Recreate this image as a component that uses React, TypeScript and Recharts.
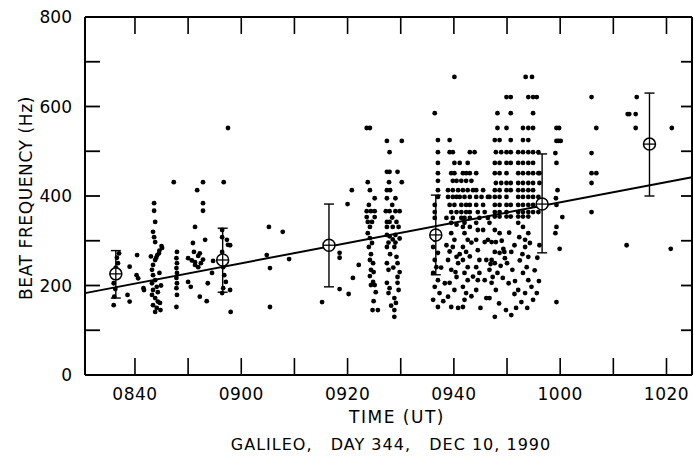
import {
  ErrorBar,
  ReferenceLine,
  Scatter,
  ScatterChart,
  XAxis,
  YAxis,
} from "recharts";

// time is minutes after 08:00 UT, frequency in Hz
const T_MIN = 30.6;
const T_MAX = 144.8;

const timeTicks = [40, 50, 60, 70, 80, 90, 100, 110, 120, 130, 140];
const freqTicks = [0, 100, 200, 300, 400, 500, 600, 700, 800];

const scan0836: [number, number][] = [
  [36.0, 156], [36.1, 175], [36.3, 192], [36.0, 205], [36.2, 218], [36.4, 240], [36.6, 262],
  [37.0, 272], [36.8, 250], [38.6, 179], [39.0, 164], [39.0, 242], [40.4, 268], [40.3, 223],
  [40.6, 216], [41.6, 194],
];

const scan0843: [number, number][] = [
  [43.6, 384], [43.6, 367], [43.8, 342], [43.4, 320], [43.6, 308], [43.8, 297], [45.1, 284],
  [44.5, 272], [43.8, 257], [43.4, 246], [43.2, 235], [43.4, 223], [43.8, 212], [43.2, 205],
  [44.1, 197], [43.4, 190], [43.2, 179], [43.8, 172], [44.3, 164], [43.4, 156], [44.1, 150],
  [44.7, 161], [43.8, 141], [41.7, 190], [44.0, 262], [44.6, 228], [44.9, 200], [44.3, 185],
  [44.8, 145], [43.0, 265], [45.0, 288], [44.6, 278], [44.2, 268],
];

const scan0848: [number, number][] = [
  [47.9, 275], [47.8, 261], [47.9, 250], [47.8, 239], [47.9, 228], [47.8, 217], [47.9, 205],
  [47.8, 194], [47.9, 179], [47.8, 152], [47.3, 431],
];

const scan0851: [number, number][] = [
  [51.7, 413], [52.8, 431], [52.8, 384], [52.8, 367], [51.3, 331], [50.9, 295], [53.2, 302],
  [50.0, 261], [50.7, 256], [51.3, 252], [51.9, 266], [52.4, 250], [52.8, 258], [51.1, 275],
  [52.2, 272], [51.3, 246], [51.9, 241], [50.0, 208], [50.5, 197], [52.2, 175], [53.5, 165],
  [54.7, 255], [54.5, 228], [53.7, 205], [56.7, 431],
];

const scan0857: [number, number][] = [
  [56.4, 324], [56.4, 308], [57.3, 302], [57.5, 291], [56.4, 275], [56.2, 261], [56.6, 241],
  [56.8, 223], [57.1, 208], [56.6, 194], [57.9, 190], [56.4, 183], [58.0, 141], [57.5, 552],
  [57.9, 290],
];

const scan0905: [number, number][] = [
  [65.2, 331], [67.8, 320], [64.8, 268], [65.4, 239], [69.0, 259], [65.4, 152], [75.2, 163],
  [78.5, 273], [78.5, 262], [78.5, 192], [80.2, 181], [80.0, 382], [80.8, 413], [81.0, 217],
  [82.1, 246],
];

const scan0924: [number, number][] = [
  [83.6, 552], [84.2, 552], [83.8, 431], [84.2, 413], [85.1, 395], [83.6, 366], [84.4, 366],
  [85.1, 366], [83.6, 353], [85.1, 353], [83.8, 342], [84.6, 342], [84.2, 331], [83.8, 317],
  [84.2, 306], [84.6, 295], [84.0, 286], [84.2, 257], [84.8, 250], [84.4, 235], [84.9, 230],
  [84.2, 221], [84.8, 208], [84.4, 201], [85.1, 201], [84.7, 145], [85.7, 145], [84.0, 380],
  [84.4, 270], [85.3, 185], [84.9, 165],
];

const scan0928: [number, number][] = [
  [87.4, 523], [90.2, 523], [87.9, 498], [87.4, 454], [87.9, 454], [89.4, 454], [87.8, 431],
  [90.2, 431], [87.4, 413], [88.0, 413], [87.4, 395], [89.0, 395], [87.2, 366], [87.9, 366],
  [89.0, 366], [89.8, 366], [87.4, 342], [87.9, 342], [89.2, 342], [87.4, 331], [88.5, 331],
  [89.6, 331], [87.4, 313], [87.9, 310], [89.0, 313], [88.5, 303], [87.7, 296], [89.0, 296],
  [89.8, 305], [87.4, 286], [88.8, 286], [87.4, 250], [87.7, 235], [89.2, 264], [89.4, 250],
  [89.8, 230], [89.4, 219], [87.4, 206], [87.9, 194], [87.7, 183], [89.4, 206], [88.8, 172],
  [89.1, 161], [88.8, 145], [88.8, 130], [88.4, 380], [88.4, 352], [88.0, 270], [88.6, 240],
  [88.2, 155], [89.6, 190],
];

const scan0937: [number, number][] = [
  [100.1, 666], [96.4, 585], [97.0, 525], [99.2, 525], [97.0, 498], [99.2, 498], [99.8, 498],
  [103.0, 498], [103.9, 498], [97.0, 474], [100.1, 474], [101.1, 474], [102.6, 474],
  [97.0, 451], [99.5, 451], [100.1, 451], [101.7, 451], [102.3, 451], [103.0, 451], [104.2, 451],
  [97.0, 434], [99.8, 434], [100.5, 434], [101.4, 434], [102.3, 434], [103.3, 434],
  [97.0, 413], [98.9, 413], [99.8, 413], [100.8, 413], [101.7, 413], [102.6, 413], [103.6, 413],
  [104.2, 413], [105.5, 413],
  [97.0, 398], [98.9, 398], [99.8, 398], [100.5, 398], [101.1, 398], [102.0, 398], [103.0, 398],
  [104.2, 398], [105.2, 398], [106.4, 398],
  [96.4, 380], [99.2, 380], [100.1, 380], [101.4, 380], [102.3, 380], [103.0, 380], [104.2, 380],
  [105.5, 380],
  [96.4, 364], [99.5, 364], [100.5, 364], [101.4, 364], [102.3, 364], [103.0, 364], [104.5, 364],
  [105.8, 364],
  [96.4, 351], [98.6, 351], [99.8, 351], [101.4, 351], [102.0, 351], [103.0, 351], [104.8, 351],
  [106.4, 351], [99.5, 340], [100.5, 336], [102.0, 340], [103.0, 331],
  [96.4, 317], [96.4, 302], [96.1, 286], [97.0, 273], [96.4, 257], [96.7, 241], [96.1, 228],
  [97.0, 212], [96.4, 197], [97.3, 183], [96.1, 168], [97.0, 152],
  [99.5, 317], [100.1, 302], [99.8, 286], [99.2, 276], [100.5, 264], [98.9, 257], [100.8, 250],
  [99.5, 235], [100.5, 219], [99.2, 206], [100.1, 190], [98.9, 175], [99.5, 152], [100.8, 150],
  [101.7, 331], [102.0, 317], [102.6, 302], [101.7, 286], [102.3, 275], [101.7, 257], [102.6, 241],
  [102.0, 228], [102.6, 212], [101.7, 197], [102.3, 183], [102.0, 168], [101.7, 152],
  [104.2, 340], [104.5, 324], [104.2, 302], [104.5, 279], [104.8, 257], [104.2, 241], [104.8, 228],
  [104.5, 212], [104.2, 190], [105.5, 324], [105.8, 297], [106.1, 257], [105.8, 212], [106.1, 172],
  [97.6, 240], [98.3, 205], [98.0, 165], [103.3, 296], [103.0, 265], [103.6, 220], [103.3, 176],
  [105.0, 150], [101.1, 270], [100.3, 230], [98.6, 290],
];

const scan0950: [number, number][] = [
  [113.5, 666], [114.7, 666],
  [109.9, 621], [110.7, 621], [114.0, 621], [114.9, 621], [115.6, 621],
  [108.2, 585], [110.7, 585], [114.9, 585],
  [108.2, 552], [109.9, 552], [113.0, 552], [114.0, 552], [114.9, 552],
  [107.7, 525], [108.6, 525], [110.7, 525], [113.0, 525], [114.0, 525],
  [107.9, 498], [108.9, 498], [109.9, 498], [110.7, 498], [112.1, 498], [113.0, 498], [114.0, 498],
  [114.9, 498], [115.9, 498],
  [107.7, 474], [108.6, 474], [109.9, 474], [110.7, 474], [112.1, 474], [113.0, 474], [114.0, 474],
  [114.9, 474],
  [107.7, 451], [108.6, 451], [109.9, 451], [112.1, 451], [113.0, 451], [114.0, 451], [114.9, 451],
  [115.9, 451], [116.1, 451],
  [107.9, 429], [108.9, 429], [109.9, 429], [110.7, 429], [112.1, 429], [113.0, 429], [114.0, 429],
  [114.9, 429], [116.1, 429],
  [107.7, 413], [108.6, 413], [109.9, 413], [110.7, 413], [112.1, 413], [113.0, 413], [114.0, 413],
  [114.9, 413],
  [106.7, 398], [107.7, 398], [108.6, 398], [109.9, 398], [112.1, 398], [113.0, 398], [114.0, 398],
  [114.9, 398], [115.9, 398],
  [107.7, 380], [108.6, 380], [109.9, 380], [110.7, 380], [112.1, 380], [113.0, 380], [114.0, 380],
  [114.9, 380], [115.9, 380],
  [107.7, 364], [108.6, 364], [109.9, 364], [112.1, 364], [113.0, 364], [114.0, 364], [114.9, 364],
  [115.9, 364],
  [107.7, 354], [108.6, 354], [109.9, 354], [110.7, 354], [112.1, 354], [113.0, 354], [114.0, 354],
  [106.7, 340], [107.7, 324], [108.6, 317], [107.1, 297], [107.9, 297], [106.4, 302], [112.1, 340],
  [113.0, 331], [114.0, 317], [112.3, 308], [113.4, 302], [114.3, 295],
  [107.7, 275], [108.6, 273], [109.5, 275], [110.8, 275], [107.1, 257], [107.7, 250], [106.7, 235],
  [107.3, 219], [108.2, 228], [109.2, 217], [107.1, 206], [107.9, 190], [106.7, 172], [107.7, 130],
  [113.4, 286], [114.0, 264], [113.7, 241], [113.0, 228], [114.0, 212], [114.6, 197], [113.4, 183],
  [112.1, 190], [112.7, 163], [111.7, 150], [110.8, 134], [114.9, 168], [115.6, 183],
  [110.0, 250], [111.0, 235], [109.0, 300], [110.4, 318], [111.4, 290], [116.1, 290],
  [106.9, 248], [108.8, 244], [109.6, 261], [110.3, 205], [111.4, 181], [112.4, 256], [112.9, 270],
  [115.2, 234], [115.7, 262], [116.0, 210], [108.5, 160], [109.8, 145], [111.5, 210], [113.8, 150],
  [109.3, 282],
];

const scan1000: [number, number][] = [
  [119.3, 552], [119.8, 552], [119.3, 523], [119.7, 523], [120.1, 523], [119.1, 496], [119.3, 474],
  [119.5, 413], [119.2, 395], [119.3, 380], [120.4, 353], [119.3, 331], [119.1, 317], [119.9, 282],
  [119.3, 163],
];

const scan1010: [number, number][] = [
  [125.9, 621], [126.8, 552], [125.9, 496], [125.9, 451], [126.8, 451], [125.9, 429], [125.9, 364],
  [132.7, 583], [133.0, 583], [134.2, 583], [134.4, 621], [134.2, 552], [132.5, 290], [141.0, 552],
  [140.8, 282],
];

// 20-minute averages with error bar limits
const binTimes = [36.4, 56.5, 76.5, 96.6, 116.6, 136.8];
const binMeans = [226, 257, 290, 313, 382, 516];
const binLows = [172, 185, 197, 224, 273, 400];
const binHighs = [278, 328, 382, 402, 494, 630];

// least-squares fit end points
const fitLine = [
  { t: 30.6, f: 183 },
  { t: 144.8, f: 442 },
];

const points = [
  ...scan0836, ...scan0843, ...scan0848, ...scan0851, ...scan0857, ...scan0905,
  ...scan0924, ...scan0928, ...scan0937, ...scan0950, ...scan1000, ...scan1010,
].map(([t, f]) => ({ t, f }));

const bins = binTimes.map((t, i) => ({
  t,
  f: binMeans[i],
  err: [binMeans[i] - binLows[i], binHighs[i] - binMeans[i]],
}));

const PLOT_TOP = 17;
const PLOT_RIGHT = 692;
const FONT = "'DejaVu Sans', sans-serif";

function fmtTime(v: number) {
  const h = 8 + Math.floor(v / 60);
  const m = v % 60;
  return `${String(h).padStart(2, "0")}${String(m).padStart(2, "0")}`;
}

function XTick(props: any) {
  const { x, y, payload } = props;
  const v = payload.value as number;
  return (
    <g>
      <line x1={x} y1={y} x2={x} y2={y - 17} stroke="#000" strokeWidth={1.6} />
      <line x1={x} y1={PLOT_TOP} x2={x} y2={PLOT_TOP + 17} stroke="#000" strokeWidth={1.6} />
      {v % 20 === 0 && (
        <text x={x} y={y + 25} textAnchor="middle" fontSize={17} fontFamily={FONT} fill="#000" letterSpacing={0.5}>
          {fmtTime(v)}
        </text>
      )}
    </g>
  );
}

function YTick(props: any) {
  const { x, y, payload } = props;
  const v = payload.value as number;
  return (
    <g>
      <line x1={x} y1={y} x2={x + 15} y2={y} stroke="#000" strokeWidth={1.8} />
      <line x1={PLOT_RIGHT} y1={y} x2={PLOT_RIGHT - 11} y2={y} stroke="#000" strokeWidth={1.8} />
      {v % 200 === 0 && (
        <text x={x - 13} y={y + 6} textAnchor="end" fontSize={17} fontFamily={FONT} fill="#000">
          {v}
        </text>
      )}
    </g>
  );
}

function Dot(props: any) {
  return <circle cx={props.cx} cy={props.cy} r={2.4} fill="#000" />;
}

function CrossCircle(props: any) {
  const { cx, cy } = props;
  return (
    <g>
      <circle cx={cx} cy={cy} r={6} fill="#fff" stroke="#000" strokeWidth={1.5} />
      <line x1={cx - 6} y1={cy} x2={cx + 6} y2={cy} stroke="#000" strokeWidth={1.3} />
      <line x1={cx} y1={cy - 6} x2={cx} y2={cy + 6} stroke="#000" strokeWidth={1.3} />
    </g>
  );
}

export default function App() {
  return (
    <div style={{ position: "absolute", left: 0, top: 0, width: 694, height: 458, background: "#fff" }}>
      <ScatterChart width={694} height={458} margin={{ top: PLOT_TOP, right: 2, bottom: 23, left: 25 }}>
        <XAxis
          dataKey="t"
          type="number"
          domain={[T_MIN, T_MAX]}
          allowDataOverflow
          ticks={timeTicks}
          interval={0}
          tick={<XTick />}
          tickLine={false}
          tickSize={0}
          tickMargin={0}
          height={60}
          axisLine={{ stroke: "#000", strokeWidth: 2 }}
        />
        <YAxis
          dataKey="f"
          type="number"
          domain={[0, 800]}
          allowDataOverflow
          ticks={freqTicks}
          interval={0}
          tick={<YTick />}
          tickLine={false}
          tickSize={0}
          tickMargin={0}
          width={60}
          axisLine={{ stroke: "#000", strokeWidth: 2 }}
        />
        <ReferenceLine y={800} stroke="#000" strokeWidth={2} />
        <ReferenceLine x={T_MAX} stroke="#000" strokeWidth={2} />
        <ReferenceLine
          segment={[
            { x: fitLine[0].t, y: fitLine[0].f },
            { x: fitLine[1].t, y: fitLine[1].f },
          ]}
          stroke="#000"
          strokeWidth={2}
        />
        <Scatter data={points} shape={<Dot />} isAnimationActive={false} />
        <Scatter data={bins} shape={<CrossCircle />} isAnimationActive={false}>
          <ErrorBar dataKey="err" direction="y" width={5} stroke="#000" strokeWidth={1.4} />
        </Scatter>
      </ScatterChart>
      <div
        style={{
          position: "absolute",
          left: 26,
          top: 198,
          transform: "translate(-50%, -50%) rotate(-90deg)",
          fontFamily: FONT,
          fontSize: 17,
          letterSpacing: 0.6,
          whiteSpace: "nowrap",
          lineHeight: "20px",
        }}
      >
        BEAT FREQUENCY (Hz)
      </div>
      <div
        style={{
          position: "absolute",
          left: 0,
          width: 694,
          top: 407,
          paddingLeft: 100,
          boxSizing: "border-box",
          textAlign: "center",
          fontFamily: FONT,
          fontSize: 17,
          letterSpacing: 1.5,
        }}
      >
        TIME (UT)
      </div>
      <div
        style={{
          position: "absolute",
          left: 0,
          width: 694,
          top: 435,
          paddingLeft: 88,
          boxSizing: "border-box",
          textAlign: "center",
          fontFamily: FONT,
          fontSize: 16,
          letterSpacing: 1,
          whiteSpace: "pre",
        }}
      >
        {"GALILEO,   DAY 344,   DEC 10, 1990"}
      </div>
    </div>
  );
}
